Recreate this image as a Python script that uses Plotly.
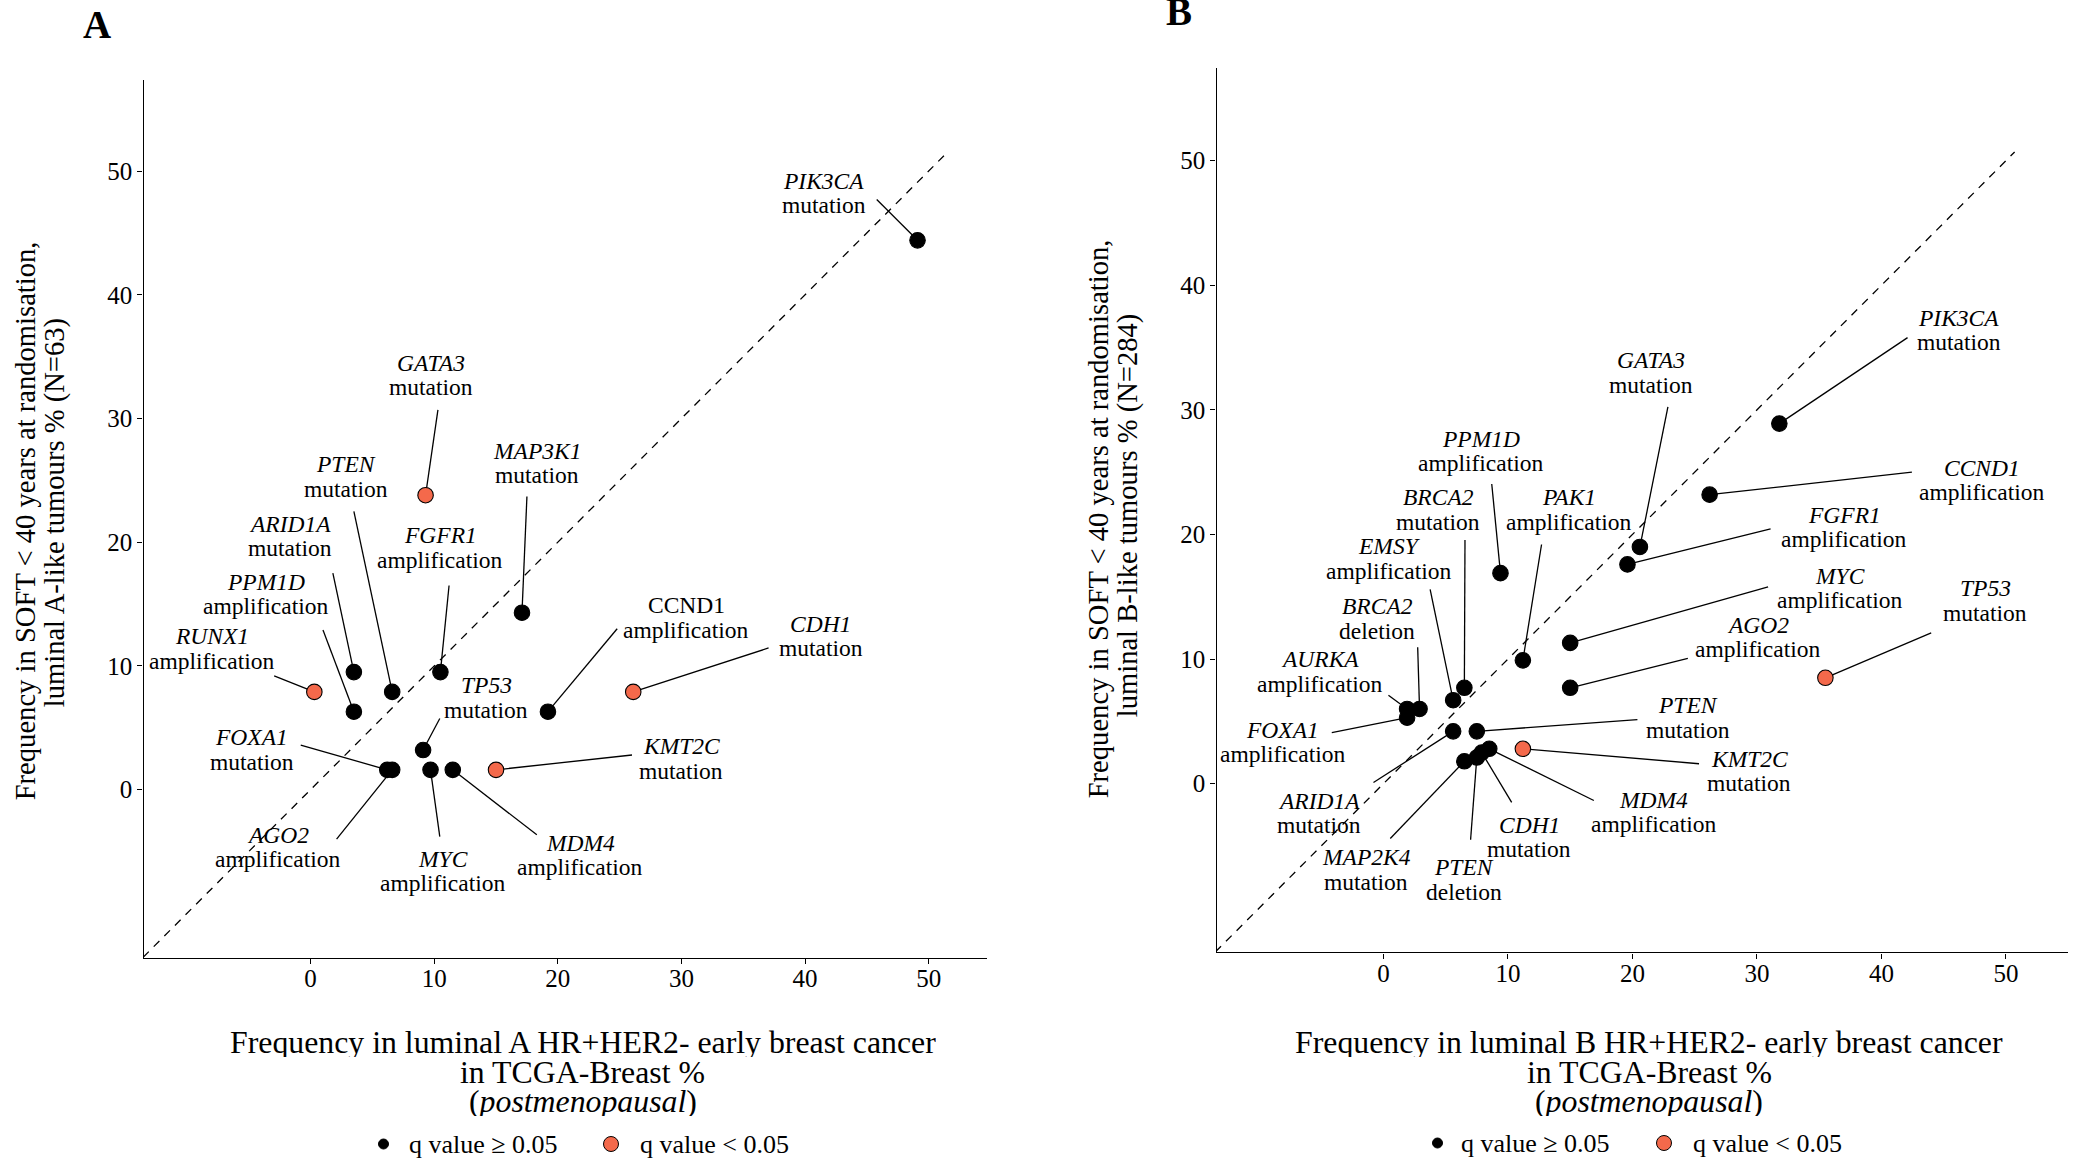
import plotly.graph_objects as go

# ---------------- Panel A: luminal A-like tumours (SOFT, N=63) ----------------
genes_a = ["PIK3CA", "GATA3", "MAP3K1", "PTEN", "ARID1A", "FGFR1", "PPM1D", "RUNX1",
           "CCND1", "CDH1", "TP53", "FOXA1", "KMT2C", "AGO2", "MYC", "MDM4"]
alteration_a = ["mutation", "mutation", "mutation", "mutation", "mutation", "amplification",
                "amplification", "amplification", "amplification", "mutation", "mutation",
                "mutation", "mutation", "amplification", "amplification", "amplification"]
tcga_a = [49.1, 9.3, 17.1, 6.6, 3.5, 10.5, 3.5, 0.3, 19.2, 26.1, 9.1, 6.2, 15.0, 6.6, 9.7, 11.5]
soft_a = [44.4, 23.8, 14.3, 7.9, 9.5, 9.5, 6.3, 7.9, 6.3, 7.9, 3.2, 1.6, 1.6, 1.6, 1.6, 1.6]
qsig_a = [False, True, False, False, False, False, False, True,
          False, True, False, False, True, False, False, False]

# ---------------- Panel B: luminal B-like tumours (SOFT, N=284) ----------------
genes_b = ["PIK3CA", "GATA3", "PPM1D", "CCND1", "BRCA2", "PAK1", "FGFR1", "EMSY", "MYC",
           "TP53", "BRCA2", "AGO2", "AURKA", "PTEN", "FOXA1", "KMT2C", "ARID1A", "MDM4",
           "CDH1", "MAP2K4", "PTEN"]
alteration_b = ["mutation", "mutation", "amplification", "amplification", "mutation",
                "amplification", "amplification", "amplification", "amplification", "mutation",
                "deletion", "amplification", "amplification", "mutation", "amplification",
                "mutation", "mutation", "amplification", "mutation", "mutation", "deletion"]
tcga_b = [31.8, 20.6, 9.4, 26.2, 6.5, 11.2, 19.6, 5.6, 15.0, 35.5, 2.9, 15.0, 1.9, 7.5,
          1.9, 11.2, 5.6, 8.5, 7.9, 6.5, 7.5]
soft_b = [28.9, 19.0, 16.9, 23.2, 7.7, 9.9, 17.6, 6.7, 11.3, 8.5, 6.0, 7.7, 6.0, 4.2,
          5.3, 2.8, 4.2, 2.8, 2.5, 1.8, 2.1]
qsig_b = [False, False, False, False, False, False, False, False, False, True, False, False,
          False, False, False, True, False, False, False, False, False]

tick_values = [0, 10, 20, 30, 40, 50]

# Label placement (gene-name line centre) and leader-line start, in data units
label_pos_a = [(41.5, 49.2), (9.7, 34.5), (18.3, 27.4), (2.9, 26.3), (-1.65, 21.5), (10.5, 20.55),
               (-3.6, 16.8), (-8.0, 12.4), (30.4, 14.9), (41.25, 13.4), (14.2, 8.45), (-4.75, 4.25),
               (30.0, 3.5), (-2.6, -3.65), (10.7, -5.6), (21.8, -4.3)]
leader_start_a = [(45.8, 47.7), (10.3, 30.7), (17.5, 23.7), (3.5, 22.5), (1.8, 17.5), (11.2, 16.5),
                  (1.0, 12.9), (-2.95, 9.2), (24.8, 13.0), (37.05, 11.45), (10.45, 5.75), (-0.8, 3.6),
                  (26.0, 2.8), (2.1, -4.0), (10.45, -3.8), (18.3, -3.65)]

label_pos_b = [(46.2, 37.4), (21.5, 34.0), (7.8, 27.7), (48.1, 25.35), (4.4, 23.0), (14.9, 23.0),
               (37.0, 21.6), (0.45, 19.05), (36.7, 16.7), (48.35, 15.7), (-0.5, 14.25), (30.1, 12.75),
               (-5.1, 10.0), (24.5, 6.3), (-8.1, 4.35), (29.4, 2.0), (-5.15, -1.35), (21.7, -1.3),
               (11.7, -3.3), (-1.4, -5.9), (6.45, -6.7)]
leader_start_b = [(42.1, 35.8), (22.85, 30.25), (8.7, 24.05), (42.45, 25.0), (6.55, 19.55),
                  (12.7, 19.2), (31.1, 20.45), (3.75, 15.6), (30.9, 15.8), (44.0, 12.1),
                  (2.75, 10.95), (24.45, 10.05), (0.4, 7.1), (20.4, 5.15), (-4.15, 4.1),
                  (25.35, 1.6), (-0.8, 0.1), (16.9, -1.35), (10.3, -1.5), (0.55, -4.4), (7.0, -4.5)]

FONT = "Liberation Serif"
RED = "#F4694B"
W, H = 2078, 1160

fig = go.Figure()
annotations = []
shapes = []


def px_x(p):
    return p / W


def px_y(p):
    return 1 - p / H


def add_panel(idx, genes, alts, xs, ys, sig, lab_pos, seg_start, diag_lo, diag_hi, upright=()):
    xr = "x" if idx == 1 else "x2"
    yr = "y" if idx == 1 else "y2"

    # identity reference line
    fig.add_trace(go.Scatter(x=[diag_lo, diag_hi], y=[diag_lo, diag_hi], mode="lines",
                             line=dict(color="black", width=1.3, dash="8px,7px"),
                             xaxis=xr, yaxis=yr, hoverinfo="skip", showlegend=False))

    # leader segments from labels to points
    lx, ly = [], []
    for (sx, sy), px, py in zip(seg_start, xs, ys):
        lx += [sx, px, None]
        ly += [sy, py, None]
    fig.add_trace(go.Scatter(x=lx, y=ly, mode="lines", line=dict(color="black", width=1.3),
                             xaxis=xr, yaxis=yr, hoverinfo="skip", showlegend=False))

    # points, coloured by q-value significance
    fig.add_trace(go.Scatter(
        x=xs, y=ys, mode="markers",
        marker=dict(size=15.5, color=[RED if s else "black" for s in sig],
                    line=dict(color="black", width=1.1)),
        text=[f"{g} {a}" for g, a in zip(genes, alts)],
        xaxis=xr, yaxis=yr, showlegend=False))

    # two-line labels: gene name (italic) over alteration type
    for g, a, (tx, ty) in zip(genes, alts, lab_pos):
        gtxt = g if g in upright else f"<i>{g}</i>"
        annotations.append(dict(x=tx, y=ty, xref=xr, yref=yr, text=gtxt, showarrow=False,
                                xanchor="center", yanchor="middle",
                                font=dict(family=FONT, size=23.5, color="black")))
        annotations.append(dict(x=tx, y=ty, xref=xr, yref=yr, text=a, showarrow=False,
                                xanchor="center", yanchor="middle", yshift=-24.5,
                                font=dict(family=FONT, size=23.5, color="black")))


add_panel(1, genes_a, alteration_a, tcga_a, soft_a, qsig_a, label_pos_a, leader_start_a,
          -13.55, 51.6, upright=("CCND1",))
add_panel(2, genes_b, alteration_b, tcga_b, soft_b, qsig_b, label_pos_b, leader_start_b,
          -13.5, 50.7)

axis_common = dict(showline=True, linecolor="black", linewidth=1.3, ticks="outside",
                   ticklen=5, tickwidth=1.3, tickcolor="black", showgrid=False,
                   zeroline=False, tickvals=tick_values,
                   tickfont=dict(family=FONT, size=25, color="black"))

fig.update_layout(
    width=W, height=H, margin=dict(l=0, r=0, t=0, b=0),
    plot_bgcolor="white", paper_bgcolor="white", showlegend=False,
    xaxis=dict(domain=[143.5 / W, 987 / W], range=[-13.52, 54.72], anchor="y",
               ticklabelstandoff=-7, **axis_common),
    yaxis=dict(domain=[px_y(957.5), px_y(79.5)], range=[-13.57, 57.4], anchor="x", **axis_common),
    xaxis2=dict(domain=[1216.5 / W, 2068.4 / W], range=[-13.41, 55.02], anchor="y2",
                ticklabelstandoff=-7, **axis_common),
    yaxis2=dict(domain=[px_y(952.4), px_y(68.4)], range=[-13.54, 57.41], anchor="x2", **axis_common),
)


def paper_text(x, y, text, size, angle=0, xanchor="center", box_h=None):
    ann = dict(x=px_x(x), y=px_y(y), xref="paper", yref="paper", text=text,
               showarrow=False, xanchor=xanchor, yanchor="middle", textangle=angle,
               font=dict(family=FONT, size=size, color="black"))
    if box_h is not None:
        ann.update(height=box_h, valign="middle")
    annotations.append(ann)


# panel letters
paper_text(97, 24, "<b>A</b>", 39)
paper_text(1179, 11, "<b>B</b>", 39)

# x-axis titles (three tightly spaced lines)
for cx, subtype in [(582.6, "A"), (1649.3, "B")]:
    paper_text(cx, 1042.7, f"Frequency in luminal {subtype} HR+HER2- early breast cancer", 31.8, box_h=29)
    paper_text(cx, 1072.2, "in TCGA-Breast %", 31.8, box_h=29)
    paper_text(cx, 1101.2, "(<i>postmenopausal</i>)", 31.8, box_h=29)

# y-axis titles
paper_text(25.3, 521, "Frequency in SOFT &lt; 40 years at randomisation,", 28.6, angle=-90)
paper_text(55.3, 513, "luminal A-like tumours % (N=63)", 28.6, angle=-90)
paper_text(1098.3, 519, "Frequency in SOFT &lt; 40 years at randomisation,", 28.6, angle=-90)
paper_text(1128.3, 515, "luminal B-like tumours % (N=284)", 28.6, angle=-90)


# legends
def legend_dot(x, y, d, fill):
    shapes.append(dict(type="circle", xref="paper", yref="paper", xsizemode="pixel",
                       ysizemode="pixel", xanchor=px_x(x), yanchor=px_y(y),
                       x0=-d / 2, x1=d / 2, y0=-d / 2, y1=d / 2,
                       fillcolor=fill, line=dict(color="black", width=1)))


for bx, tx1, rx, tx2, ly in [(383.5, 406.8, 611, 637.6, 1144), (1437.5, 1458.8, 1664, 1690.5, 1143)]:
    legend_dot(bx, ly, 10, "black")
    paper_text(tx1, ly, "q value ≥ 0.05", 26, xanchor="left")
    legend_dot(rx, ly, 15, RED)
    paper_text(tx2, ly, "q value &lt; 0.05", 26, xanchor="left")

fig.update_layout(annotations=annotations, shapes=shapes)
fig.write_html("out.html")
